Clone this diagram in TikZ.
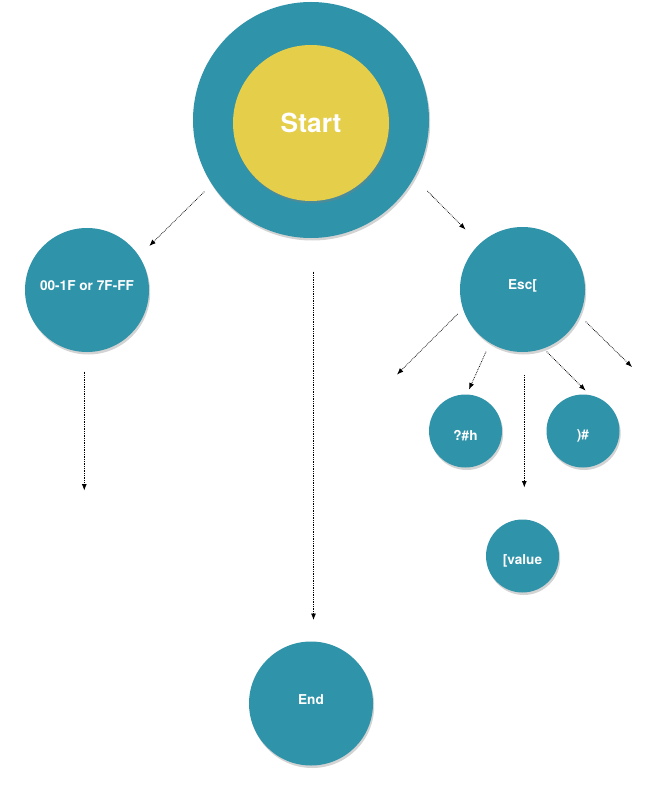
\documentclass[tikz,border=0pt]{standalone}
\usepackage{fontspec}
\setmainfont{TeX Gyre Heros}
\usetikzlibrary{arrows.meta,shadows}
\definecolor{teal}{HTML}{2F93AA}
\definecolor{sun}{HTML}{E4CE4A}
\newcommand{\upby}[1]{\raisebox{4pt}[\height][\depth]{#1}}
\newcommand{\downby}[1]{\raisebox{-5pt}[\height][\depth]{#1}}
\tikzset{
  state/.style={circle, fill=teal, draw=none, inner sep=0pt, text=white,
    font=\bfseries\fontsize{13.6}{16}\selectfont,
    drop shadow={opacity=0.35, shadow xshift=1.2pt, shadow yshift=-2.5pt}},
  arr/.style={densely dotted, line width=0.75pt, -{Latex[length=6.5pt,width=5pt]}, black}
}
\begin{document}
\begin{tikzpicture}[x=1pt,y=-1pt]
\useasboundingbox (0,0) rectangle (646,786);
% nodes
\node[state, minimum size=236pt] (startout) at (311,120) {};
\node[state, fill=sun, minimum size=156pt, font=\bfseries\fontsize{26.3}{30}\selectfont] (start) at (311,123) {Start};
\node[state, minimum size=124pt] (ctrl) at (87,290) {\upby{00-1F or 7F-FF}};
\node[state, minimum size=125pt] (esc) at (522.5,289.5) {\upby{Esc[}};
\node[state, minimum size=73pt] (qh) at (465.5,431) {\downby{?\#h}};
\node[state, minimum size=73pt] (ph) at (583,431) {\downby{)\#}};
\node[state, minimum size=73pt] (val) at (522.5,556) {\downby{[value}};
\node[state, minimum size=124pt] (end) at (311,703.5) {\upby{End}};
% arrow end points
\coordinate (a1s) at (204.3,191.7); \coordinate (a1e) at (149.3,246);
\coordinate (a2s) at (427.3,191);   \coordinate (a2e) at (465.5,229.5);
\coordinate (a3s) at (313.5,271.7); \coordinate (a3e) at (313.5,620);
\coordinate (a4s) at (84.3,371.7);  \coordinate (a4e) at (84.3,490.5);
\coordinate (b1s) at (457.7,314);   \coordinate (b1e) at (397,374.5);
\coordinate (b2s) at (486,351.7);   \coordinate (b2e) at (469,389.5);
\coordinate (b3s) at (524.3,375);   \coordinate (b3e) at (524.3,487.5);
\coordinate (b4s) at (546.7,351.7); \coordinate (b4e) at (585.5,390.5);
\coordinate (b5s) at (585.7,321.7); \coordinate (b5e) at (632,367);
% connectors
\draw[arr] (a1s) -- (a1e);
\draw[arr] (a2s) -- (a2e);
\draw[arr] (a3s) -- (a3e);
\draw[arr] (a4s) -- (a4e);
\draw[arr] (b1s) -- (b1e);
\draw[arr] (b2s) -- (b2e);
\draw[arr] (b3s) -- (b3e);
\draw[arr] (b4s) -- (b4e);
\draw[arr] (b5s) -- (b5e);
\end{tikzpicture}
\end{document}
